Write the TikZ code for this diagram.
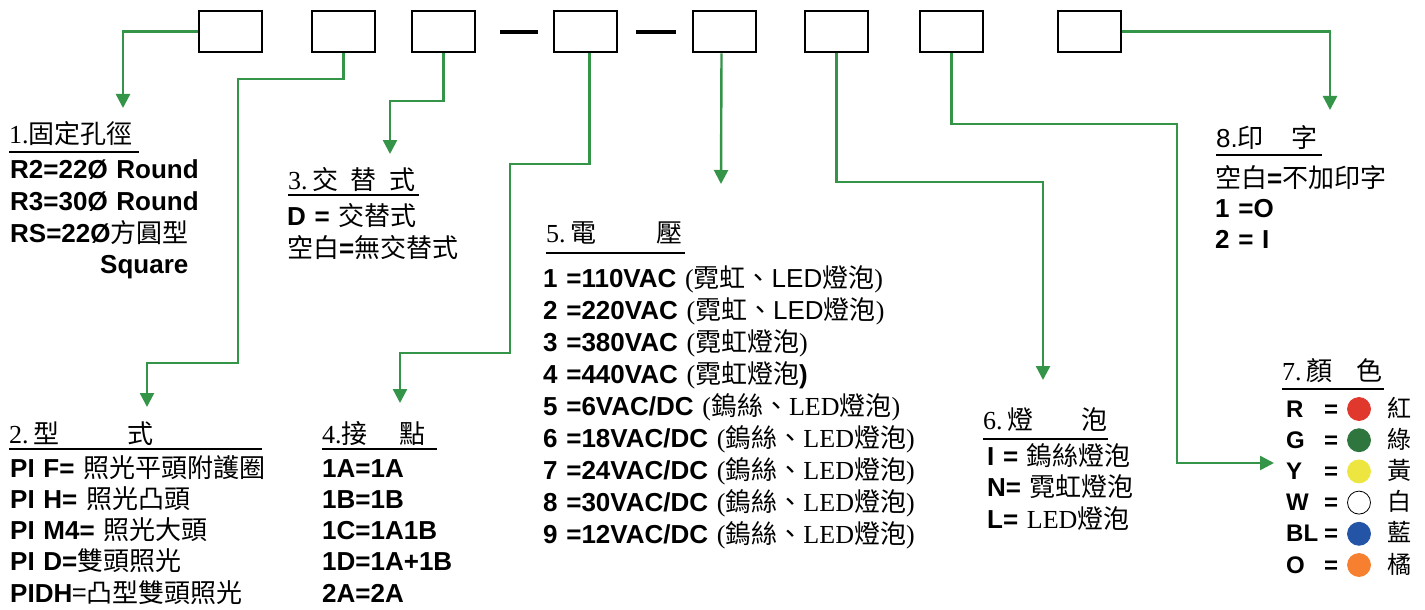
\documentclass[tikz,border=0pt]{standalone}
\usepackage{fontspec}
\setmainfont{Liberation Serif}
\newfontfamily\arial{Liberation Sans}
\newfontfamily\cjk{Noto Sans CJK TC}
\usepackage{tikz}
\usetikzlibrary{arrows.meta, calc}
\definecolor{LinkGreen}{RGB}{52,148,72}
\definecolor{DotRed}{RGB}{224,56,44}
\definecolor{DotGreen}{RGB}{46,118,62}
\definecolor{DotYellow}{RGB}{238,230,64}
\definecolor{DotBlue}{RGB}{36,84,166}
\definecolor{DotOrange}{RGB}{246,128,48}
\newcommand{\zh}[1]{{\cjk #1}}
\newcommand{\bs}[1]{{\arial\bfseries #1}}

\begin{document}
\begin{tikzpicture}[x=1pt, y=-1pt,
                    slot/.style={rectangle, draw=black, line width=2.6pt, minimum width=63pt, minimum height=41pt, inner sep=0pt},
                    link/.style={draw=LinkGreen, line width=2.4pt, -{Triangle[width=14pt,length=14pt]}},
                    joiner/.style={draw=black, line width=4pt},
                    head/.style={anchor=base west, inner sep=0pt, text depth=9pt, font=\fontsize{26}{32}\selectfont},
                    rule/.style={draw=black, line width=2.4pt},
                    list/.style={anchor=base west, inner sep=0pt, align=left, text width=400pt, font=\fontsize{26}{32}\selectfont},
                    key/.style={anchor=base west, inner sep=0pt, font=\fontsize{24}{28}\selectfont\arial\bfseries},
                    eqmark/.style={anchor=base, inner sep=0pt, font=\fontsize{24}{28}\selectfont\arial\bfseries},
                    dot/.style={circle, minimum size=23pt, inner sep=0pt, line width=0.8pt},
                    hue/.style={anchor=base west, inner sep=0pt, font=\fontsize{24}{28}\selectfont\cjk}
                ]
                    \useasboundingbox (0,0) rectangle (1425,610);

                    % code slots
                    \node[slot] (b1) at (230.5,31.5) {};
                    \node[slot] (b2) at (343.5,31.5) {};
                    \node[slot] (b3) at (443.5,31.5) {};
                    \node[slot] (b4) at (585.5,31.5) {};
                    \node[slot] (b5) at (724.5,31.5) {};
                    \node[slot] (b6) at (836.5,31.5) {};
                    \node[slot] (b7) at (951.5,31.5) {};
                    \node[slot] (b8) at (1089.5,31.5) {};
                    \draw[joiner] ($(b3.east)+(24,1)$) -- ($(b4.west)+(-15,1)$);
                    \draw[joiner] ($(b4.east)+(18,1)$) -- ($(b5.west)+(-16,1)$);

                    % headings
                    \node[head, text width=130pt] (h1) at (9,143) {1.\zh{固定孔徑}};
                    \node[head, text width=253pt, text depth=6pt] (h2) at (9,443) {2.\,\zh{型}\hspace{68pt}\zh{式}};
                    \node[head, text width=131pt, text depth=6pt] (h3) at (288,189) {\mbox{3.\,\zh{交}\hspace{12pt}\zh{替}\hspace{13pt}\zh{式}}};
                    \node[head, text width=115pt, text depth=6pt] (h4) at (322,443) {4.\zh{接}\hspace{32pt}\zh{點}};
                    \node[head, text width=139pt, text depth=11pt] (h5) at (546,242) {5.\,\zh{電}\hspace{60pt}\zh{壓}};
                    \node[head, text width=125pt, text depth=10pt] (h6) at (983,429) {6.\,\zh{燈}\hspace{48pt}\zh{泡}};
                    \node[head, text width=102pt] (h7) at (1282,380) {7.\,\zh{顏}\hspace{24pt}\zh{色}};
                    \node[head, text width=106pt, text depth=8pt] (h8) at (1216,147) {{\arial 8.}\zh{印}\hspace{28pt}\zh{字}};
                    \foreach \h in {h1,h2,h3,h4,h5,h6,h7,h8}
                        \draw[rule] (\h.south west) -- (\h.south east);

                    % option lists
                    \node[list] (l1) at (10,178) {\bs{R2=22Ø Round}\\ \bs{R3=30Ø Round}\\ \bs{RS=22Ø}\zh{方圓型}\\ \hspace*{90pt}\bs{Square}};
                    \node[list, font=\fontsize{26}{31.3}\selectfont] (l2) at (10,477) {\bs{PI F=} \zh{照光平頭附護圈}\\ \bs{PI H=} \zh{照光凸頭}\\ \bs{PI M4=} \zh{照光大頭}\\ \bs{PI D=}\zh{雙頭照光}\\ \bs{PIDH}\zh{=凸型雙頭照光}};
                    \node[list] (l3) at (287,225) {\bs{D =} \zh{交替式}\\ \zh{空白}\bs{=}\zh{無交替式}};
                    \node[list, font=\fontsize{26}{31.3}\selectfont] (l4) at (322,477) {\bs{1A=1A}\\ \bs{1B=1B}\\ \bs{1C=1A1B}\\ \bs{1D=1A+1B}\\ \bs{2A=2A}};
                    \node[list] (l5) at (543,287) {\bs{1 =110VAC} (\zh{霓虹、}{\arial LED}\zh{燈泡})\\
                        \bs{2 =220VAC} (\zh{霓虹、}{\arial LED}\zh{燈泡})\\
                        \bs{3 =380VAC} (\zh{霓虹燈泡})\\
                        \bs{4 =440VAC} (\zh{霓虹燈泡}\bs{)}\\
                        \bs{5 =6VAC/DC} (\zh{鎢絲、}LED\zh{燈泡})\\
                        \bs{6 =18VAC/DC} (\zh{鎢絲、}LED\zh{燈泡})\\
                        \bs{7 =24VAC/DC} (\zh{鎢絲、}LED\zh{燈泡})\\
                        \bs{8 =30VAC/DC} (\zh{鎢絲、}LED\zh{燈泡})\\
                        \bs{9 =12VAC/DC} (\zh{鎢絲、}LED\zh{燈泡})};
                    \node[list, font=\fontsize{26}{31.5}\selectfont] (l6) at (987,465) {\bs{I =} \zh{鎢絲燈泡}\\ \bs{N=} \zh{霓虹燈泡}\\ \bs{L=} LED\zh{燈泡}};
                    \node[list, font=\fontsize{26}{30.5}\selectfont] (l8) at (1215,187) {\zh{空白}\bs{=}\zh{不加印字}\\ \bs{1 =O}\\ \bs{2 = I}};

                    % colour table
                    \foreach \code/\hue/\edge/\name [count=\i] in {R/DotRed/DotRed/紅, G/DotGreen/DotGreen/綠, Y/DotYellow/DotYellow/黃, W/white/black/白, BL/DotBlue/DotBlue/藍, O/DotOrange/DotOrange/橘} {
                        \pgfmathsetmacro{\yb}{417+31.2*(\i-1)}
                        \node[key] (key\i) at (1286,\yb) {\code};
                        \node[eqmark] (eq\i) at (1331,\yb) {=};
                        \node[dot, fill=\hue, draw=\edge] (dot\i) at (1359,\yb-8) {};
                        \node[hue] (hue\i) at (1387,\yb) {\name};
                    }

                    % arrow tips
                    \coordinate (t1) at (123,108);
                    \coordinate (t2) at (147,407);
                    \coordinate (t3) at (390,154);
                    \coordinate (t4) at (400,403);
                    \coordinate (t5) at (721,184);
                    \coordinate (t6) at (1043,380);
                    \coordinate (t7) at (1274,463);
                    \coordinate (t8) at (1330,110);

                    \draw[link] (b1.west) -| (t1);
                    \draw[link] (b2.south) |- (238,79) |- (147,363) -- (t2);
                    \draw[link] (b3.south) |- (390,101) -- (t3);
                    \draw[link] ($(b4.south)+(4,0)$) |- (510,164) |- (400,353) -- (t4);
                    \draw[link] ($(b5.south)+(-3,0)$) -- (t5);
                    \draw[link] (b6.south) |- (1043,182) -- (t6);
                    \draw[link] (b7.south) |- (1177,124) |- (t7);
                    \draw[link] (b8.east) -| (t8);
                \end{tikzpicture}
\end{document}
